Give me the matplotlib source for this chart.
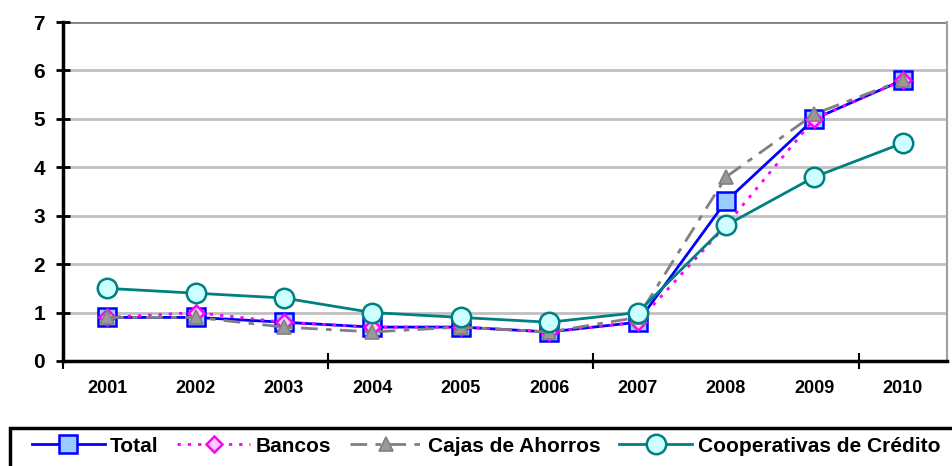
import matplotlib
matplotlib.use("Agg")
import matplotlib.pyplot as plt
from matplotlib.patches import Rectangle

years = ["2001", "2002", "2003", "2004", "2005", "2006", "2007", "2008", "2009", "2010"]
total = [0.9, 0.9, 0.8, 0.7, 0.7, 0.6, 0.8, 3.3, 5.0, 5.8]
bancos = [0.9, 1.0, 0.8, 0.7, 0.7, 0.6, 0.8, 2.8, 5.0, 5.8]
cajas = [0.9, 0.9, 0.7, 0.6, 0.7, 0.6, 0.9, 3.8, 5.1, 5.8]
coop = [1.5, 1.4, 1.3, 1.0, 0.9, 0.8, 1.0, 2.8, 3.8, 4.5]
y_ticks = [0, 1, 2, 3, 4, 5, 6, 7]

plt.rcParams['font.family'] = ['Liberation Sans', 'DejaVu Sans']
fig = plt.figure(figsize=(9.53, 4.66), dpi=100)
ax = fig.add_axes([63/953, 1-361/466, (947-63)/953, (361-22)/466])

x = list(range(len(years)))
ax.plot(x, total, color='#0000FF', lw=2, marker='s', ms=13, mfc='#99CCFF', mec='#0000FF', mew=1.8, label='Total', zorder=3)
ax.plot(x, bancos, color='#FF00FF', lw=2, ls=(0, (1.2, 2.5)), marker='D', ms=8, mfc='#FFCCFF', mec='#FF00FF', mew=1.8, label='Bancos', zorder=4)
ax.plot(x, cajas, color='#808080', lw=2, ls=(0, (6, 3, 2, 3)), marker='^', ms=10, mfc='#999999', mec='#808080', mew=1.2, label='Cajas de Ahorros', zorder=5)
ax.plot(x, coop, color='#008080', lw=2, marker='o', ms=14, mfc='#CCFFFF', mec='#008080', mew=1.8, label='Cooperativas de Crédito', zorder=6)

ax.set_xlim(-0.5, len(years) - 0.5)
ax.set_ylim(0, 7)
ax.set_yticks(y_ticks)
ax.set_yticklabels([str(v) for v in y_ticks], fontsize=15, fontweight='bold')
ax.set_xticks([-0.5, 2.5, 5.5, 8.5])
ax.set_xticklabels([])
ax.set_xticks(x, minor=True)
ax.set_xticklabels(years, minor=True, fontsize=13, fontweight='bold')
ax.tick_params(axis='x', which='minor', length=0, pad=14)
ax.tick_params(axis='x', which='major', direction='inout', length=12, width=1.5)
ax.tick_params(axis='y', direction='inout', length=10, width=2, pad=8)

for v in y_ticks[1:]:
    ax.axhline(v, color='#C0C0C0' if v < 7 else '#808080', lw=2, zorder=0)
ax.spines['top'].set_visible(False)
ax.spines['right'].set_color('#A0A0A0')
ax.spines['right'].set_linewidth(1.5)
ax.spines['left'].set_linewidth(2.5)
ax.spines['bottom'].set_linewidth(2.5)

fig.patches.append(Rectangle((10/953, -0.02), 1.0, (466-428)/466 + 0.02, transform=fig.transFigure,
                             fill=False, ec='black', lw=2.5))
leg = fig.legend(loc='center', bbox_to_anchor=(486/953, 1-446/466), ncol=4, frameon=False,
                 handlelength=3.5, handletextpad=0.25, columnspacing=0.9,
                 prop={'weight': 'bold', 'size': 15})

fig.savefig('out.png', dpi=100)
